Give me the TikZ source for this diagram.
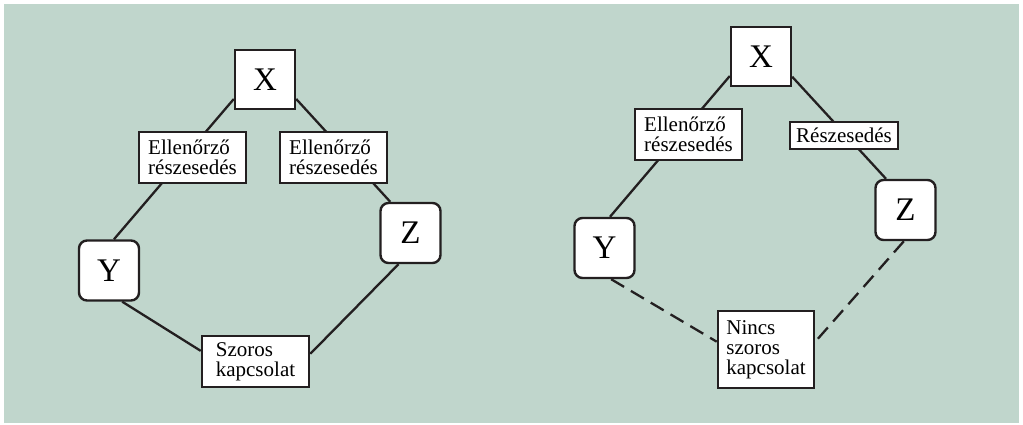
\documentclass[tikz,border=0pt]{standalone}
\usepackage{fontspec}
\setmainfont{Liberation Serif}
\definecolor{sage}{RGB}{192,214,204}
\definecolor{ink}{RGB}{35,31,32}
\pgfdeclarelayer{bg}
\pgfsetlayers{bg,main}
\begin{document}
\begin{tikzpicture}[x=0.5pt,y=-0.5pt,
  ent/.style={draw=ink,fill=white,line width=1.2pt,inner sep=0pt,
    minimum width=30pt,minimum height=29.5pt,font=\fontsize{16.5}{16.5}\selectfont},
  rent/.style={ent,rounded corners=4pt,minimum height=30pt},
  rel/.style={draw=ink,fill=white,line width=1.3pt,inner sep=0pt,align=left,
    minimum width=53.5pt,minimum height=25.5pt,font=\fontsize{10.5}{10}\selectfont},
  link/.style={draw=ink,line width=1.15pt}]
\useasboundingbox (0,0) rectangle (1023,424);
% bal oldal
\node[ent] (x1) at (265,79.5) {X};
\node[rel] (e1) at (192.5,157.5) {Ellenőrző\\részesedés};
\node[rel] (e2) at (333.5,157.5) {Ellenőrző\\részesedés};
\node[rent] (y1) at (109,270.5) {Y};
\node[rent] (z1) at (410.5,233) {Z};
\node[rel] (s1) at (255.5,361.5) {Szoros\\kapcsolat};
% jobb oldal
\node[ent] (x2) at (761,56.5) {X};
\node[rel] (e3) at (688.5,134.5) {Ellenőrző\\részesedés};
\node[rel,minimum width=54pt,minimum height=13.5pt] (r3) at (844,135.5) {Részesedés};
\node[rent] (y2) at (604.5,248) {Y};
\node[rent] (z2) at (905.5,210) {Z};
\node[rel,minimum width=48pt,minimum height=38.5pt] (n2) at (766,349.5) {Nincs\\szoros\\kapcsolat};
\begin{pgfonlayer}{bg}
\fill[sage] (4,4) rectangle (1019,423);
\draw[link] (x1.212) -- (y1.81);
\draw[link] (x1.-32) -- (z1.123);
\draw[link] (y1.293) -- (s1.169);
\draw[link] (z1.249) -- (s1.8);
\draw[link] (x2.212) -- (y2.80);
\draw[link] (x2.-33) -- (z2.122);
\draw[link,dash pattern=on 7.5pt off 4pt] (y2.282) -- (n2.171);
\draw[link,dash pattern=on 7.5pt off 4pt] (z2.267) -- (n2.9);
\end{pgfonlayer}
\end{tikzpicture}
\end{document}
